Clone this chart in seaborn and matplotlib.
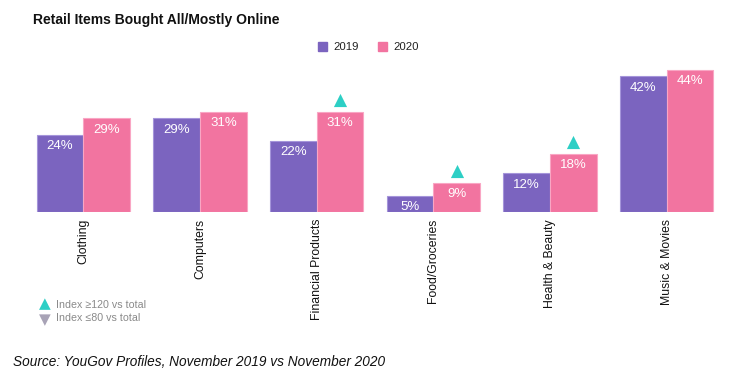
#!/usr/bin/env python3

import matplotlib
matplotlib.use("Agg")
from matplotlib import pyplot as plt
import pandas as pd
import seaborn as sns

# Data
categories = ["Clothing", "Computers", "Financial Products",
              "Food/Groceries", "Health & Beauty", "Music & Movies"]
values_2019 = [24, 29, 22, 5, 12, 42]
values_2020 = [29, 31, 31, 9, 18, 44]
high_index_2020 = [False, False, True, True, True, False]
years = ["2019", "2020"]

PURPLE = "#7B64BF"
PINK = "#F274A0"
TEAL = "#2DCFC5"
GREY_TRI = "#A8A3B6"


def main():
    sns.set_theme(style="white")
    plt.rcParams["font.family"] = ["Liberation Sans", "DejaVu Sans"]

    df = pd.DataFrame({
        "category": categories * 2,
        "value": values_2019 + values_2020,
        "year": [years[0]] * len(categories) + [years[1]] * len(categories),
    })

    fig = plt.figure(figsize=(7.38, 3.81), dpi=100)
    ax = fig.add_axes([25 / 738, 169 / 381, 700 / 738, 155 / 381])

    sns.barplot(df, x="category", y="value", hue="year",
                palette=[PURPLE, PINK], width=0.8, ax=ax,
                legend=False, saturation=1)

    edge = {PURPLE: "#A595DA", PINK: "#F9A6C4"}
    for container, col in zip(ax.containers, [PURPLE, PINK]):
        for bar in container:
            bar.set_edgecolor(edge[col])
            bar.set_linewidth(0.8)
        ax.bar_label(container, labels=[f"{v:.0f}%" for v in container.datavalues],
                     label_type="edge", padding=-12.5, color="white",
                     fontsize=9.5)

    # Index markers above the 2020 bars
    for bar, flag in zip(ax.containers[1], high_index_2020):
        if flag:
            ax.scatter(bar.get_x() + bar.get_width() / 2,
                       bar.get_height() + 3.8, marker="^", s=90,
                       color=TEAL, linewidths=0, zorder=5, clip_on=False)

    ax.set_ylim(0, 48)
    ax.set_xlim(-0.5, len(categories) - 0.5)
    ax.set_xlabel("")
    ax.set_ylabel("")
    ax.set_yticks([])
    ax.tick_params(axis="x", length=0, pad=5)
    ax.set_xticks(range(len(categories)))
    ax.set_xticklabels(categories, rotation=90, fontsize=8.8,
                       color="#111111", va="top")
    sns.despine(ax=ax, left=True, bottom=True)

    # Title
    fig.text(33 / 738, 1 - 20 / 381, "Retail Items Bought All/Mostly Online",
             fontsize=10, fontweight="bold", va="center", color="#111111")

    # Year legend
    fig.patches.append(plt.Rectangle((318 / 738, 1 - 51 / 381), 9 / 738,
                                     9 / 381, transform=fig.transFigure,
                                     color=PURPLE))
    fig.text(333 / 738, 1 - 46.5 / 381, years[0], fontsize=8.2, va="center",
             color="#222222")
    fig.patches.append(plt.Rectangle((378 / 738, 1 - 51 / 381), 9 / 738,
                                     9 / 381, transform=fig.transFigure,
                                     color=PINK))
    fig.text(393 / 738, 1 - 46.5 / 381, years[1], fontsize=8.2, va="center",
             color="#222222")

    # Index key
    fig.text(45 / 738, 1 - 304 / 381, "\u25B2", fontsize=11, color=TEAL,
             ha="center", va="center", family=["DejaVu Sans"])
    fig.text(56 / 738, 1 - 305 / 381, "Index \u2265120 vs total",
             fontsize=7.7, color="#8A8A8A", va="center")
    fig.text(45 / 738, 1 - 320 / 381, "\u25BC", fontsize=11, color=GREY_TRI,
             ha="center", va="center", family=["DejaVu Sans"])
    fig.text(56 / 738, 1 - 318 / 381, "Index \u226480 vs total",
             fontsize=7.7, color="#8A8A8A", va="center")

    # Source
    fig.text(13 / 738, 1 - 362 / 381,
             "Source: YouGov Profiles, November 2019 vs November 2020",
             fontsize=9.8, style="italic", va="center", color="#111111")

    fig.savefig("out.png", dpi=100)


if __name__ == "__main__":
    main()
